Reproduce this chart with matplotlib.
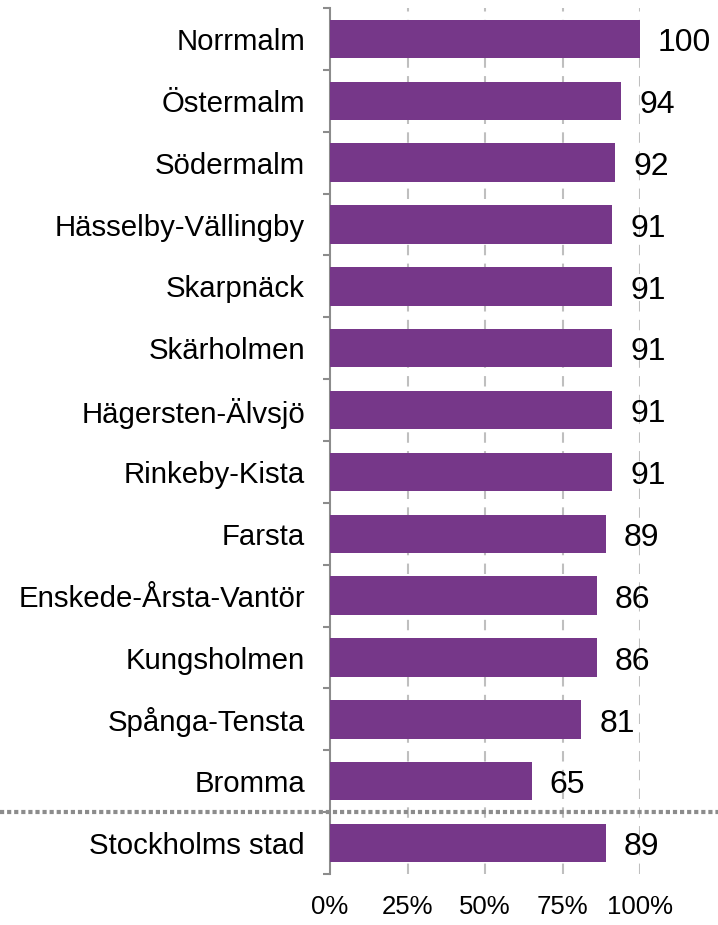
import matplotlib
matplotlib.use("Agg")
import matplotlib.pyplot as plt
from matplotlib.ticker import FixedLocator, FuncFormatter
import numpy as np

plt.rcParams['font.family'] = ['Liberation Sans', 'DejaVu Sans']

categories = ["Norrmalm", "Östermalm", "Södermalm", "Hässelby-Vällingby", "Skarpnäck",
              "Skärholmen", "Hägersten-Älvsjö", "Rinkeby-Kista", "Farsta",
              "Enskede-Årsta-Vantör", "Kungsholmen", "Spånga-Tensta", "Bromma",
              "Stockholms stad"]
values = [100, 94, 92, 91, 91, 91, 91, 91, 89, 86, 86, 81, 65, 89]
xticks = [0, 25, 50, 75, 100]

W, H = 718, 925
fig = plt.figure(figsize=(W / 100, H / 100), dpi=100)
ax = fig.add_axes([330 / W, 1 - 874 / H, 310 / W, 866 / H])

n = len(categories)
y = np.arange(n)
color = '#763789'
ax.barh(y, values, height=0.62, color=color, zorder=3)
ax.set_ylim(n - 0.5, -0.5)
ax.set_xlim(0, 100)

for yi, v in zip(y, values):
    ax.annotate(f"{v}", (v, yi), xytext=(13, -3), textcoords='offset points',
                ha='left', va='center', fontsize=23, color='black')

ax.set_yticks(y)
ax.set_yticklabels(categories, fontsize=21.2)
for lbl in ax.get_yticklabels():
    lbl.set_y(lbl.get_position()[1])
ax.yaxis.set_minor_locator(FixedLocator(np.arange(n + 1) - 0.5))
ax.tick_params(axis='y', which='major', length=0, pad=18)
ax.tick_params(axis='y', which='minor', length=5, color='#8c8c8c', width=1.5)

ax.set_xticks(xticks)
ax.xaxis.set_major_formatter(FuncFormatter(lambda v, p: f"{v:.0f}%"))
ax.tick_params(axis='x', length=0, pad=15, labelsize=18.5)

for xv in xticks[1:]:
    ax.axvline(xv, color='#bfbfbf', linestyle=(0, (5, 4)), linewidth=1.5, zorder=1)

for s in ['top', 'right', 'bottom']:
    ax.spines[s].set_visible(False)
ax.spines['left'].set_color('#8c8c8c')
ax.spines['left'].set_linewidth(1.5)

# separator line between districts and city total
x0 = -330 / 310
x1 = (W - 330) / 310
ax.plot([x0 * 100, x1 * 100], [n - 1.5, n - 1.5], color='#8c8c8c', linestyle=(0, (1, 0.7)),
        linewidth=3, clip_on=False, zorder=4)

fig.savefig("out.png", dpi=100)
